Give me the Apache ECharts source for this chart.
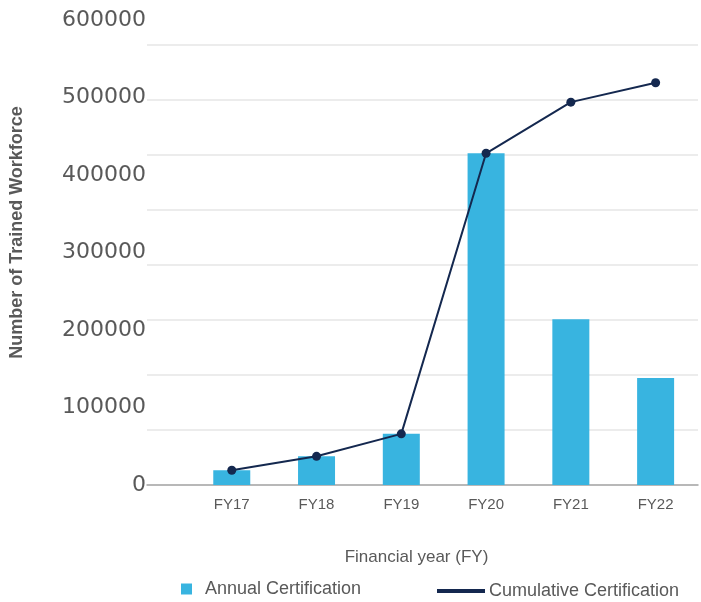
<!DOCTYPE html>
<html>
<head>
<meta charset="utf-8">
<script src="https://cdn.jsdelivr.net/npm/echarts@6/dist/echarts.min.js"></script>
<style>
  html, body { margin: 0; padding: 0; background: #fff; }
  #chart { width: 701px; height: 602px; }
</style>
</head>
<body>
<div id="chart"></div>
<script>
const years = ['FY17', 'FY18', 'FY19', 'FY20', 'FY21', 'FY22']
const annual = [19000, 37000, 66000, 428000, 214000, 138000]
const cumulative = [19000, 37000, 66000, 428000, 494000, 519000]
const yTicks = [0, 100000, 200000, 300000, 400000, 500000, 600000]

const gray = '#595959'
const font = 'Liberation Sans, Arial, sans-serif'

const chart = echarts.init(document.getElementById('chart'))
chart.setOption({
  animation: false,
  grid: { left: 147, right: 3, top: 20, bottom: 117 },
  legend: [
    {
      data: ['Annual Certification'],
      left: 176, top: 575,
      icon: 'rect', itemWidth: 11, itemHeight: 11,
      textStyle: { color: gray, fontSize: 18, fontFamily: font, padding: [0, 0, 0, 8] }
    },
    {
      data: ['Cumulative Certification'],
      left: 432, top: 577,
      icon: 'rect', itemWidth: 48, itemHeight: 4,
      textStyle: { color: gray, fontSize: 18, fontFamily: font, padding: [0, 0, 0, -1] }
    }
  ],
  xAxis: {
    type: 'value',
    min: -1, max: 5.5, interval: 1,
    name: 'Financial year (FY)',
    nameLocation: 'middle',
    nameGap: 64,
    nameTextStyle: { color: gray, fontSize: 17, fontFamily: font, padding: [0, 12, 0, 0] },
    axisLine: { show: true, lineStyle: { color: '#a6a6a6', width: 1.5 } },
    axisTick: { show: false },
    splitLine: { show: false },
    axisLabel: {
      color: gray, fontSize: 15, fontFamily: font, margin: 12,
      formatter: v => years[v] || ''
    }
  },
  yAxis: [
    {
      type: 'value',
      min: 0, max: 600000,
      name: 'Number of Trained Workforce',
      nameLocation: 'middle',
      nameGap: 121,
      nameTextStyle: { color: gray, fontSize: 18, fontWeight: 'bold', fontFamily: font, padding: [0, 0, 0, 40] },
      axisLine: { show: false },
      axisTick: { show: false },
      splitLine: { show: false },
      axisLabel: {
        color: gray, fontSize: 22, fontFamily: 'DejaVu Sans, sans-serif', margin: 1,
        customValues: yTicks,
        formatter: v => String(v)
      }
    },
    {
      // gridlines only
      type: 'value',
      position: 'left',
      min: 0, max: 8.45, interval: 1,
      axisLine: { show: false },
      axisTick: { show: false },
      axisLabel: { show: false },
      splitLine: { show: true, showMaxLine: false, lineStyle: { color: '#e6e6e6', width: 1.5 } }
    }
  ],
  series: [
    {
      name: 'Annual Certification',
      type: 'bar',
      barWidth: 37,
      itemStyle: { color: '#38b4e0' },
      data: years.map((y, i) => [i, annual[i]])
    },
    {
      name: 'Cumulative Certification',
      type: 'line',
      symbol: 'circle',
      symbolSize: 9,
      lineStyle: { color: '#14284f', width: 2 },
      itemStyle: { color: '#14284f' },
      data: years.map((y, i) => [i, cumulative[i]])
    }
  ]
})
</script>
</body>
</html>
